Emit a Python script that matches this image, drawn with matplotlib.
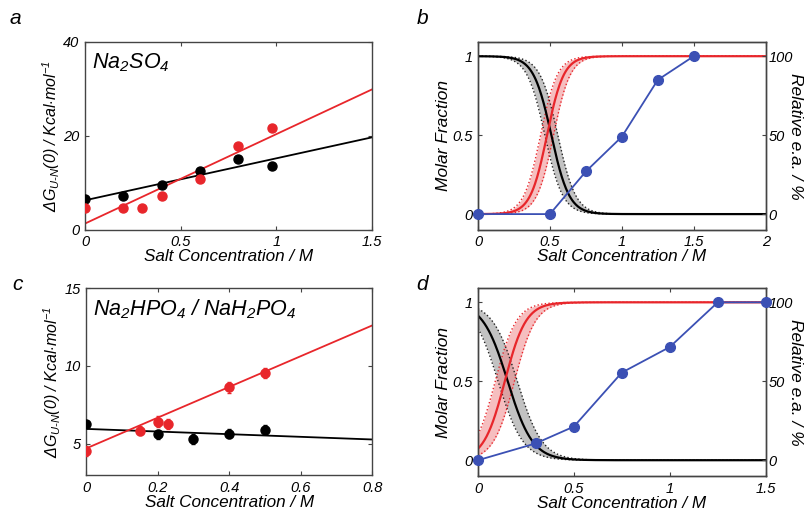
import matplotlib.pyplot as plt
import numpy as np

plt.rcParams['font.family'] = ['Liberation Sans', 'DejaVu Sans']
plt.rcParams['font.style'] = 'italic'
plt.rcParams['mathtext.fontset'] = 'custom'
plt.rcParams['mathtext.rm'] = 'Liberation Sans:italic'
plt.rcParams['mathtext.it'] = 'Liberation Sans:italic'
plt.rcParams['mathtext.default'] = 'it'

RED = '#e8262b'
BLUE = '#3b50b4'
FRAME = '#444444'

# panel a: Na2SO4
a_black_x = [0, 0.2, 0.4, 0.6, 0.8, 0.98]
a_black_y = [6.6, 7.3, 9.5, 12.6, 15.0, 13.5]
a_red_x = [0, 0.2, 0.3, 0.4, 0.6, 0.8, 0.98]
a_red_y = [4.6, 4.6, 4.6, 7.3, 10.8, 17.8, 21.7]
a_fit_x = [0, 1.5]
a_black_fit = [6.3, 19.7]
a_red_fit = [1.35, 29.9]

# panel c: Na2HPO4 / NaH2PO4
c_black_x = [0, 0.2, 0.3, 0.4, 0.5]
c_black_y = [6.28, 5.6, 5.32, 5.66, 5.9]
c_black_err = [0.0, 0.3, 0.3, 0.3, 0.3]
c_red_x = [0, 0.15, 0.2, 0.23, 0.4, 0.5]
c_red_y = [4.53, 5.85, 6.41, 6.28, 8.63, 9.55]
c_red_err = [0.3, 0.3, 0.35, 0.3, 0.35, 0.35]
c_fit_x = [0, 0.8]
c_black_fit = [5.96, 5.28]
c_red_fit = [4.7, 12.6]

# panel b: sigmoid fits (midpoint, width, band half-shift) and e.a.
b_black_fit = (0.51, 0.062, 0.045)
b_red_fit = (0.48, 0.058, 0.045)
b_ea_x = [0, 0.5, 0.75, 1.0, 1.25, 1.5]
b_ea_y = [0, 0, 27, 49, 85, 100]

# panel d
d_black_fit = (0.155, 0.065, 0.05)
d_red_fit = (0.14, 0.055, 0.05)
d_ea_x = [0, 0.3, 0.5, 0.75, 1.0, 1.25, 1.5]
d_ea_y = [0, 10.6, 21.3, 55.5, 71.7, 100, 100]


def style_axes(ax):
    for s in ax.spines.values():
        s.set_color(FRAME)
        s.set_linewidth(1.0)
    ax.tick_params(direction='in', length=3, width=0.8, color=FRAME,
                   labelsize=10.5, top=True, right=True, pad=4)


def fmt(v):
    return ('%g' % v)


def linear_panel(ax, bx, by, rx, ry, fx, bfit, rfit, xlim, ylim, xt, yt, title, berr=None, rerr=None):
    ax.plot(fx, bfit, color='black', lw=1.3, zorder=2)
    ax.plot(fx, rfit, color=RED, lw=1.3, zorder=2)
    if berr is None:
        ax.plot(bx, by, 'o', color='black', ms=6.5, zorder=3)
        ax.plot(rx, ry, 'o', color=RED, ms=6.5, zorder=3)
    else:
        ax.errorbar(bx, by, yerr=berr, fmt='o', color='black', ms=6.5, elinewidth=1, capsize=1.5, zorder=3)
        ax.errorbar(rx, ry, yerr=rerr, fmt='o', color=RED, ms=6.5, elinewidth=1, capsize=1.5, zorder=3)
    ax.set_xlim(xlim)
    ax.set_ylim(ylim)
    ax.set_xticks(xt)
    ax.set_xticklabels([fmt(v) for v in xt])
    ax.set_yticks(yt)
    ax.set_yticklabels([fmt(v) for v in yt])
    style_axes(ax)
    ax.set_xlabel('Salt Concentration / M', fontsize=12.3, labelpad=0)
    ax.set_ylabel(r'$\Delta G_{U\text{-}N}(0)$ / Kcal$\cdot$mol$^{-1}$', fontsize=11.5, labelpad=1)
    ax.text(0.025, 0.95, title, transform=ax.transAxes, fontsize=15.5, va='top', ha='left')


def sig(x, m, w):
    return 1.0 / (1.0 + np.exp((x - m) / w))


def sigmoid_panel(ax, bfit, rfit, eax, eay, xlim, xt):
    x = np.linspace(xlim[0], xlim[1], 400)
    m, w, d = bfit
    lo, hi = sig(x, m - d, w), sig(x, m + d, w)
    ax.fill_between(x, lo, hi, color='#9a9a9a', alpha=0.6, lw=0, zorder=1)
    ax.plot(x, lo, ':', color='#222222', lw=1.0, zorder=2)
    ax.plot(x, hi, ':', color='#222222', lw=1.0, zorder=2)
    ax.plot(x, sig(x, m, w), color='black', lw=1.6, zorder=3)
    m, w, d = rfit
    lo, hi = 1 - sig(x, m - d, w), 1 - sig(x, m + d, w)
    ax.fill_between(x, lo, hi, color='#f08a8c', alpha=0.55, lw=0, zorder=1)
    ax.plot(x, lo, ':', color=RED, lw=1.0, zorder=2)
    ax.plot(x, hi, ':', color=RED, lw=1.0, zorder=2)
    ax.plot(x, 1 - sig(x, m, w), color=RED, lw=1.6, zorder=3)
    ax.set_xlim(xlim)
    ax.set_ylim(-0.1, 1.09)
    ax.set_xticks(xt)
    ax.set_xticklabels([fmt(v) for v in xt])
    ax.set_yticks([0, 0.5, 1])
    ax.set_yticklabels(['0', '0.5', '1'])
    style_axes(ax)
    ax.tick_params(right=False)
    ax.set_xlabel('Salt Concentration / M', fontsize=12.3, labelpad=0)
    ax.set_ylabel('Molar Fraction', fontsize=12.5, labelpad=1)
    ax2 = ax.twinx()
    ax2.plot(eax, eay, '-o', color=BLUE, lw=1.3, ms=7, clip_on=False, zorder=5)
    ax2.set_ylim(-10, 109)
    ax2.set_yticks([0, 50, 100])
    ax2.set_yticklabels(['0', '50', '100'])
    style_axes(ax2)
    ax2.tick_params(left=False, top=False, pad=2)
    ax2.set_ylabel('Relative e.a. / %', fontsize=12.5, rotation=270, va='center', ha='center')
    ax2.yaxis.set_label_coords(1.105, 0.5)


fig = plt.figure(figsize=(8.06, 5.12), dpi=100)
ax_a = fig.add_axes([0.1055, 0.551, 0.356, 0.367])
ax_b = fig.add_axes([0.593, 0.551, 0.357, 0.367])
ax_c = fig.add_axes([0.1067, 0.0723, 0.355, 0.365])
ax_d = fig.add_axes([0.593, 0.0703, 0.357, 0.367])

linear_panel(ax_a, a_black_x, a_black_y, a_red_x, a_red_y, a_fit_x, a_black_fit, a_red_fit,
             (0, 1.5), (0, 40), [0, 0.5, 1, 1.5], [0, 20, 40], r'Na$_2$SO$_4$')
linear_panel(ax_c, c_black_x, c_black_y, c_red_x, c_red_y, c_fit_x, c_black_fit, c_red_fit,
             (0, 0.8), (3, 15), [0, 0.2, 0.4, 0.6, 0.8], [5, 10, 15],
             r'Na$_2$HPO$_4$ / NaH$_2$PO$_4$', berr=c_black_err, rerr=c_red_err)
sigmoid_panel(ax_b, b_black_fit, b_red_fit, b_ea_x, b_ea_y, (0, 2), [0, 0.5, 1, 1.5, 2])
sigmoid_panel(ax_d, d_black_fit, d_red_fit, d_ea_x, d_ea_y, (0, 1.5), [0, 0.5, 1, 1.5])

for lab, (px, py) in zip('abcd', [(10, 18), (417, 18), (12, 284), (416, 284)]):
    fig.text(px / 806, 1 - py / 512, lab, fontsize=15, va='center', ha='left')

fig.savefig('out.png', dpi=100)
